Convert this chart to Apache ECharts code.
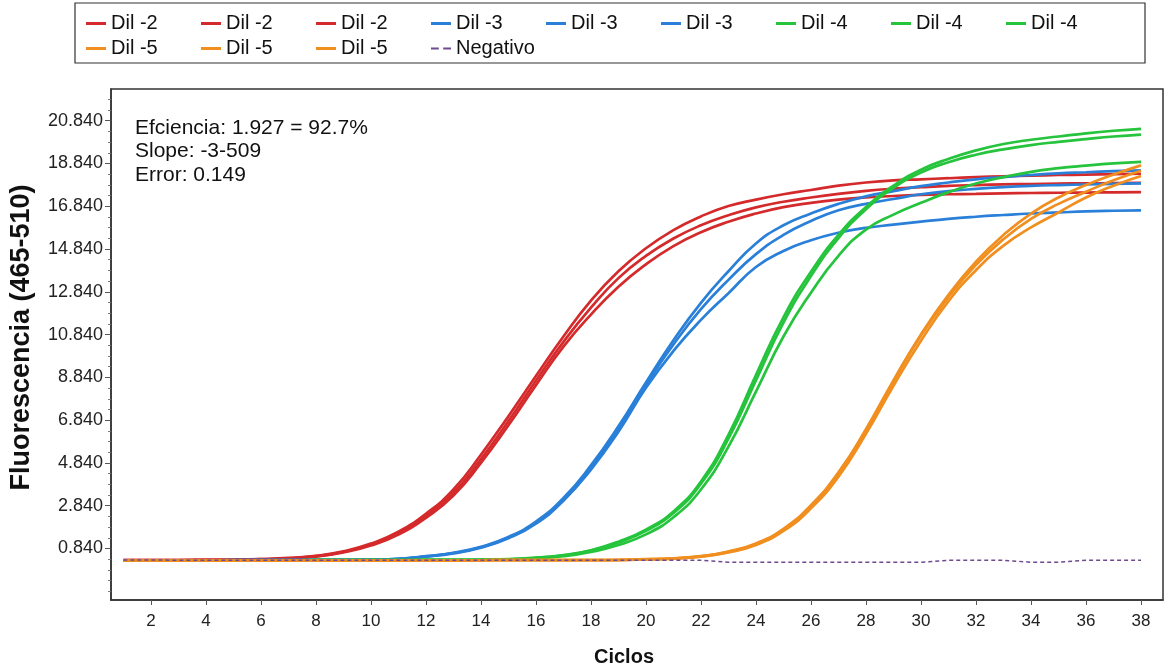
<!DOCTYPE html>
<html>
<head>
<meta charset="utf-8">
<script src="https://cdn.jsdelivr.net/npm/echarts@6/dist/echarts.min.js"></script>
<style>
html,body{margin:0;padding:0;background:#fff;}
#chart{width:1169px;height:672px;}
</style>
</head>
<body>
<div id="chart"></div>
<script>
const cycles = [1,2,3,4,5,6,7,8,9,10,11,12,13,14,15,16,17,18,19,20,21,22,23,24,25,26,27,28,29,30,31,32,33,34,35,36,37,38];

const dil2a = [300,300,300,310,320,350,400,500,710,1070,1625,2465,3600,5225,7025,8900,10750,12425,13800,14875,15725,16365,16850,17150,17400,17600,17800,17950,18050,18100,18150,18200,18240,18270,18300,18320,18340,18360];
const dil2b = [300,300,300,305,315,340,385,480,685,1025,1560,2365,3440,5020,6800,8680,10500,12100,13480,14520,15330,15950,16420,16790,17050,17250,17420,17560,17660,17730,17790,17830,17860,17880,17900,17910,17920,17930];
const dil2c = [290,290,290,300,310,330,370,460,655,980,1490,2275,3315,4840,6600,8475,10275,11775,13075,14125,14975,15625,16115,16500,16800,17000,17150,17250,17320,17370,17400,17420,17440,17460,17470,17480,17490,17500];

const dil3a = [290,290,290,290,295,300,300,305,310,320,360,480,640,920,1380,2100,3200,4725,6550,8600,10575,12325,13800,15100,15950,16500,16950,17300,17550,17780,17950,18100,18200,18300,18380,18430,18480,18520];
const dil3b = [290,290,290,290,295,300,300,305,310,320,355,470,630,900,1350,2050,3150,4625,6450,8500,10375,12025,13400,14600,15500,16150,16650,16950,17180,17400,17550,17650,17730,17790,17830,17860,17890,17910];
const dil3c = [290,290,290,290,290,295,300,300,305,315,350,460,610,880,1320,2000,3075,4525,6300,8350,10075,11525,12775,14000,14750,15250,15600,15830,15980,16120,16250,16350,16430,16500,16550,16600,16630,16650];

const dil4a = [290,290,290,290,290,290,290,295,300,300,300,305,310,320,340,410,530,760,1160,1725,2575,3975,6150,8950,11650,13775,15500,16800,17800,18550,19050,19450,19750,19950,20100,20250,20370,20460];
const dil4b = [290,290,290,290,290,290,290,295,300,300,300,305,310,320,335,400,515,740,1120,1670,2500,3865,5975,8700,11400,13575,15350,16700,17700,18420,18900,19250,19500,19700,19850,19980,20100,20190];
const dil4c = [290,290,290,290,290,290,290,295,300,300,300,305,310,315,330,380,480,680,1000,1500,2300,3600,5600,8175,10750,12800,14525,15750,16450,17000,17500,17900,18200,18450,18620,18740,18840,18910];

const dil5a = [280,280,280,280,280,280,280,280,285,285,285,290,290,290,295,295,300,300,310,340,380,480,700,1080,1760,2870,4400,6420,8700,10850,12700,14250,15500,16500,17250,17830,18320,18750];
const dil5b = [280,280,280,280,280,280,280,280,285,285,285,290,290,290,295,295,300,300,305,335,375,470,680,1050,1720,2820,4350,6370,8650,10800,12600,14100,15300,16250,16950,17520,18050,18500];
const dil5c = [280,280,280,280,280,280,280,280,285,285,285,290,290,290,295,295,300,300,300,330,370,460,660,1010,1660,2720,4200,6200,8450,10550,12400,13850,15000,15850,16550,17250,17800,18250];

const negativo = [300,300,295,295,290,290,290,290,290,290,290,290,290,290,290,290,290,290,290,290,290,290,200,200,200,200,200,200,200,200,290,290,290,200,200,290,290,290];

const xTicks = [2,4,6,8,10,12,14,16,18,20,22,24,26,28,30,32,34,36,38];
const yTicks = [840,2840,4840,6840,8840,10840,12840,14840,16840,18840,20840];
const yMinorTicks = [-1160,-660,-160,340,1340,1840,2340,3340,3840,4340,5340,5840,6340,7340,7840,8340,9340,9840,10340,11340,11840,12340,13340,13840,14340,15340,15840,16340,17340,17840,18340,19340,19840,20340,21340,21840];

const seriesDefs = [
  {label:'Dil -2', data:dil2a, color:'#d42a2c'},
  {label:'Dil -2', data:dil2b, color:'#d42a2c'},
  {label:'Dil -2', data:dil2c, color:'#d42a2c'},
  {label:'Dil -3', data:dil3a, color:'#2a80d8'},
  {label:'Dil -3', data:dil3b, color:'#2a80d8'},
  {label:'Dil -3', data:dil3c, color:'#2a80d8'},
  {label:'Dil -4', data:dil4a, color:'#25c43c'},
  {label:'Dil -4', data:dil4b, color:'#25c43c'},
  {label:'Dil -4', data:dil4c, color:'#25c43c'},
  {label:'Dil -5', data:dil5a, color:'#f08f1f'},
  {label:'Dil -5', data:dil5b, color:'#f08f1f'},
  {label:'Dil -5', data:dil5c, color:'#f08f1f'},
  {label:'Negativo', data:negativo, color:'#6e4a8e', dashed:true}
];

const FONT = "'Liberation Sans', Arial, sans-serif";
const DASH_ICON = 'path://M0,0 H7 V2 H0 Z M11,0 H18 V2 H11 Z';

const series = seriesDefs.map((d, i) => ({
  name: d.label + ' #' + i,
  type: 'line',
  data: cycles.map((c, k) => [c, d.data[k]]),
  showSymbol: false,
  symbol: 'none',
  smooth: d.dashed ? false : 0.5,
  color: d.color,
  lineStyle: d.dashed ? {color: d.color, width: 1.5, type: [4, 3]} : {color: d.color, width: 2.7},
  z: d.dashed ? 5 : 2,
  silent: true
}));

const chart = echarts.init(document.getElementById('chart'), null, {renderer: 'canvas'});
chart.setOption({
  animation: false,
  backgroundColor: '#ffffff',
  legend: {
    left: 75,
    top: 3,
    width: 1036,
    orient: 'horizontal',
    padding: [8, 24, 2, 11],
    itemGap: 0,
    itemWidth: 20,
    itemHeight: 3,
    borderColor: '#333',
    borderWidth: 1.2,
    selectedMode: false,
    data: series.map((s, i) => ({name: s.name, icon: seriesDefs[i].dashed ? DASH_ICON : 'rect'})),
    formatter: n => n.split(' #')[0],
    textStyle: {fontFamily: FONT, fontSize: 20, color: '#111', width: 90, height: 25, lineHeight: 25}
  },
  grid: {
    left: 111, right: 6, top: 89, bottom: 67,
    show: true, borderColor: '#333', borderWidth: 1.5, backgroundColor: 'transparent'
  },
  graphic: [{
    type: 'text',
    left: 135,
    top: 116,
    style: {
      text: 'Efciencia: 1.927 = 92.7%\nSlope: -3-509\nError: 0.149',
      font: "21px 'Liberation Sans', Arial, sans-serif",
      lineHeight: 23.5,
      fill: '#111'
    }
  }],
  xAxis: {
    type: 'value',
    min: 0.55,
    max: 38.8,
    name: 'Ciclos',
    nameLocation: 'middle',
    nameGap: 47,
    nameTextStyle: {fontFamily: FONT, fontSize: 20, fontWeight: 'bold', color: '#111', padding: [0, 26, 0, 0]},
    axisLine: {show: true, onZero: false, lineStyle: {color: '#333', width: 1.5}},
    axisTick: {show: true, length: 5, lineStyle: {color: '#555'}, customValues: xTicks},
    axisLabel: {customValues: xTicks, fontFamily: FONT, fontSize: 17, color: '#222', margin: 13},
    splitLine: {show: false}
  },
  yAxis: [{
    type: 'value',
    min: -1567,
    max: 22321,
    name: 'Fluorescencia (465-510)',
    nameLocation: 'middle',
    nameRotate: 90,
    nameGap: 76,
    nameTextStyle: {fontFamily: FONT, fontSize: 27, fontWeight: 'bold', color: '#111', padding: [0, 0, 0, 14]},
    axisLine: {show: true, onZero: false, lineStyle: {color: '#333', width: 1.5}},
    axisTick: {show: true, length: 6, lineStyle: {color: '#555'}, customValues: yTicks},
    axisLabel: {customValues: yTicks, fontFamily: FONT, fontSize: 18, color: '#222', margin: 8,
      formatter: v => (v / 1000).toFixed(3)},
    splitLine: {show: false}
  }, {
    type: 'value',
    min: -1567,
    max: 22321,
    position: 'left',
    axisLine: {show: false, onZero: false},
    axisTick: {show: true, length: 3, lineStyle: {color: '#777'}, customValues: yMinorTicks},
    axisLabel: {show: false},
    splitLine: {show: false}
  }],
  series: series
});
</script>
</body>
</html>
